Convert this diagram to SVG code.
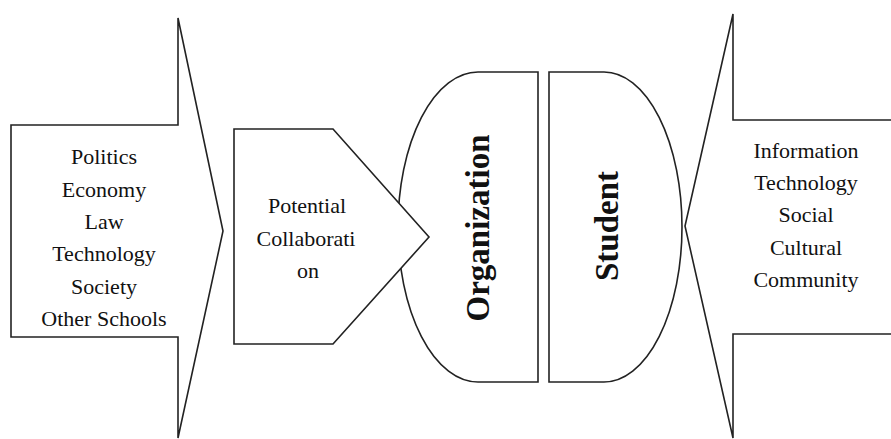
<svg xmlns="http://www.w3.org/2000/svg" width="891" height="439" viewBox="0 0 891 439">
  <style>
    .shape { fill: #ffffff; stroke: #222222; stroke-width: 1.6; stroke-linejoin: miter; }
    .label { font-family: "Liberation Serif", "Times New Roman", serif; font-size: 22px; fill: #111111; text-anchor: middle; }
    .vlabel { font-family: "Liberation Serif", "Times New Roman", serif; font-size: 33px; font-weight: bold; fill: #111111; text-anchor: middle; }
  </style>
  <rect width="891" height="439" fill="#ffffff"/>

  <!-- left block arrow: external factors -->
  <g id="external-factors">
    <path class="shape" d="M11,125 L178,125 L178,18 L223,231 L178,438 L178,337 L11,337 Z"/>
    <text class="label" x="104" y="164">Politics</text>
    <text class="label" x="104" y="196.5">Economy</text>
    <text class="label" x="104" y="229">Law</text>
    <text class="label" x="104" y="261">Technology</text>
    <text class="label" x="104" y="294">Society</text>
    <text class="label" x="104" y="326">Other Schools</text>
  </g>

  <!-- organization half-round block -->
  <g id="organization">
    <path class="shape" d="M538,72 L478,72 A80,155 0 0 0 478,382 L538,382 Z"/>
    <text class="vlabel" transform="translate(489,228) rotate(-90)" x="0" y="0">Organization</text>
  </g>

  <!-- student half-round block -->
  <g id="student">
    <path class="shape" d="M549,72 L604,72 A78,155 0 0 1 604,382 L549,382 Z"/>
    <text class="vlabel" transform="translate(618,226) rotate(-90)" x="0" y="0">Student</text>
  </g>

  <!-- pentagon arrow: potential collaboration -->
  <g id="potential-collaboration">
    <path class="shape" d="M234,129 L333,129 L429,237 L333,344 L234,344 Z"/>
    <text class="label" x="307" y="213">Potential</text>
    <text class="label" x="306" y="246">Collaborati</text>
    <text class="label" x="308" y="278">on</text>
  </g>

  <!-- right block arrow: environment factors -->
  <g id="environment-factors">
    <path class="shape" d="M895,120 L733,120 L733,14 L685,226 L733,438 L733,334 L895,334"/>
    <text class="label" x="806" y="158">Information</text>
    <text class="label" x="806" y="190">Technology</text>
    <text class="label" x="806" y="222">Social</text>
    <text class="label" x="806" y="255">Cultural</text>
    <text class="label" x="806" y="287">Community</text>
  </g>

  <g id="connectors"></g>
</svg>
